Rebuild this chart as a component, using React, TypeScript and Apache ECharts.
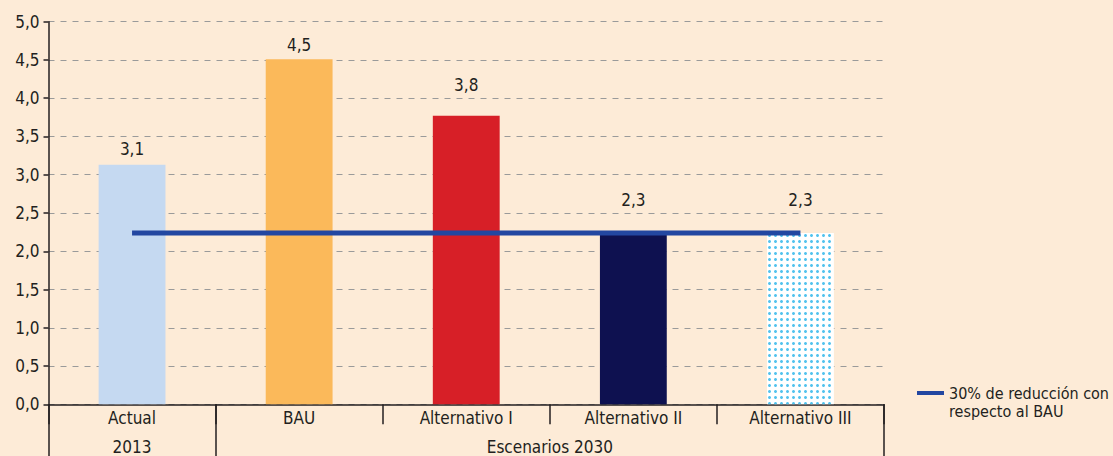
import React, { useEffect, useRef } from "react";
import * as echarts from "echarts";

const categories = ["Actual", "BAU", "Alternativo I", "Alternativo II", "Alternativo III"];
const barValues = [3.13, 4.51, 3.77, 2.24, 2.24];
const barLabels = ["3,1", "4,5", "3,8", "2,3", "2,3"];
const reductionName = "30% de reducción con\nrespecto al BAU";
const reductionValues = [2.24, 2.24, 2.24, 2.24, 2.24];
const groupLabels = ["2013", "Escenarios 2030"];
const groupSpans = [
  [0, 1],
  [1, 5],
];
const yMin = 0;
const yMax = 5;
const yStep = 0.5;

// styles (kept apart from data)
const barColors = ["#c5d9f1", "#fbb95a", "#d71f27", "#0e1150", "#ffffff"];
const labelDistances = [7, 6, 22, 24, 24];
const FONT = "'Liberation Sans Narrow', 'DejaVu Sans Condensed', 'Arial Narrow', sans-serif";
const BG = "#fdebd7";
const INK = "#231f20";

export default function App() {
  const ref = useRef<HTMLDivElement>(null);

  useEffect(() => {
    if (!ref.current) return;
    const chart = echarts.init(ref.current, undefined, { renderer: "svg" });

    const groupCenters = groupSpans.map((s) => (s[0] + s[1]) / 2);
    const groupEdges = Array.from(new Set(groupSpans.flat()));

    const barData = barValues.map((v, i) => {
      const item: any = {
        value: v,
        itemStyle: { color: barColors[i] },
        label: {
          show: true,
          position: "top",
          distance: labelDistances[i],
          formatter: barLabels[i],
        },
      };
      if (i === 4) {
        item.itemStyle.decal = {
          symbol: "circle",
          symbolSize: 1,
          color: "#52c3ee",
          backgroundColor: "#ffffff",
          dashArrayX: [3, 3],
          dashArrayY: [3, 3],
          rotation: 0,
        };
      }
      return item;
    });

    chart.setOption({
      animation: false,
      backgroundColor: BG,
      textStyle: { fontFamily: FONT },
      grid: { left: 48.5, right: 229, top: 21.7, bottom: 51.7 },
      legend: {
        data: [{ name: reductionName, icon: "rect" }],
        formatter: (name: string) => " \n" + name,
        left: 917,
        top: 366,
        padding: 0,
        itemWidth: 27,
        itemHeight: 4,
        itemStyle: { borderWidth: 0 },
        textStyle: {
          fontFamily: FONT,
          fontSize: 16,
          color: INK,
          lineHeight: 18,
        },
        selectedMode: false,
      },
      xAxis: [
        {
          type: "category",
          data: categories,
          position: "bottom",
          axisLine: { show: true, lineStyle: { color: INK, width: 1.5 } },
          axisTick: { show: true, interval: 0, length: 20, lineStyle: { color: INK, width: 1.5 } },
          axisLabel: { interval: 0, margin: 5, fontSize: 17, color: INK, fontFamily: FONT },
          splitLine: { show: false },
        },
        {
          type: "value",
          min: 0,
          max: categories.length,
          position: "bottom",
          axisLine: { show: false },
          splitLine: { show: false },
          axisTick: {
            show: true,
            customValues: groupEdges,
            length: 52,
            lineStyle: { color: INK, width: 1.5 },
          },
          axisLabel: {
            customValues: groupCenters,
            margin: 34,
            fontSize: 17,
            color: INK,
            fontFamily: FONT,
            formatter: (v: number) => {
              const idx = groupCenters.findIndex((c) => Math.abs(c - v) < 1e-6);
              return idx >= 0 ? groupLabels[idx] : "";
            },
          },
        },
      ],
      yAxis: {
        type: "value",
        min: yMin,
        max: yMax,
        interval: yStep,
        axisLine: { show: true, lineStyle: { color: INK, width: 1.5 } },
        axisTick: { show: true, length: 5, lineStyle: { color: INK, width: 1.5 } },
        axisLabel: {
          margin: 9,
          fontSize: 17,
          color: INK,
          fontFamily: FONT,
          formatter: (v: number) => v.toFixed(1).replace(".", ","),
        },
        splitLine: { show: true, lineStyle: { color: "#9a9a9a", width: 1, type: [6, 6] } },
      },
      series: [
        {
          type: "bar",
          name: "Emisiones",
          xAxisIndex: 0,
          barWidth: "40%",
          data: barData,
          label: { color: INK, fontSize: 17, fontFamily: FONT },
          z: 2,
        },
        {
          type: "line",
          name: reductionName,
          xAxisIndex: 0,
          data: reductionValues,
          showSymbol: false,
          symbol: "none",
          lineStyle: { color: "#2347a1", width: 5, cap: "butt" },
          itemStyle: { color: "#2347a1" },
          z: 3,
        },
      ],
    });

    return () => chart.dispose();
  }, []);

  return (
    <div
      ref={ref}
      style={{ position: "absolute", left: 0, top: 0, width: 1113, height: 456, background: BG }}
    />
  );
}
